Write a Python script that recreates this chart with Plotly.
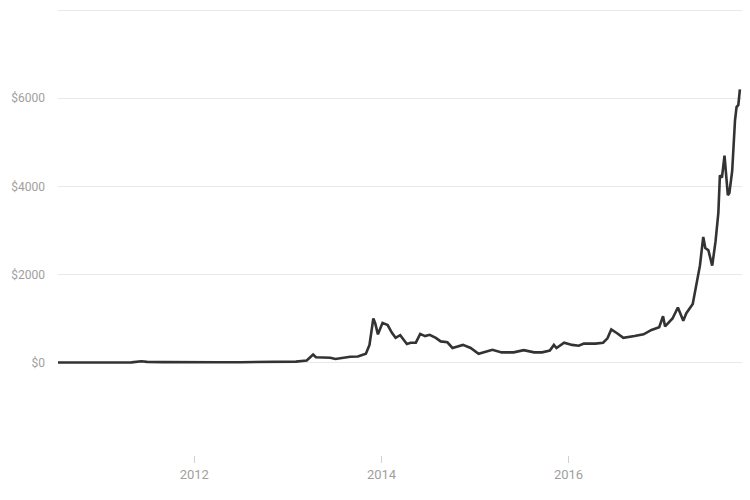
import plotly.graph_objects as go

dates = [
    "2010-07-18", "2010-10-01", "2011-01-01", "2011-03-01", "2011-05-01", "2011-06-08",
    "2011-07-01", "2011-09-01", "2011-11-01", "2012-01-01", "2012-04-01", "2012-07-01",
    "2012-09-01", "2012-12-01", "2013-02-01", "2013-03-15", "2013-04-09", "2013-04-20",
    "2013-05-15", "2013-06-15", "2013-07-05", "2013-08-01", "2013-09-01", "2013-10-01",
    "2013-11-01", "2013-11-15", "2013-11-30", "2013-12-07", "2013-12-18", "2014-01-05",
    "2014-01-25", "2014-02-10", "2014-02-25", "2014-03-15", "2014-04-10", "2014-04-25",
    "2014-05-15", "2014-06-01", "2014-06-20", "2014-07-08", "2014-08-01", "2014-08-20",
    "2014-09-15", "2014-10-05", "2014-10-25", "2014-11-15", "2014-12-15", "2015-01-15",
    "2015-02-15", "2015-03-10", "2015-04-15", "2015-06-01", "2015-07-10", "2015-08-20",
    "2015-09-20", "2015-10-20", "2015-11-05", "2015-11-15", "2015-12-15", "2016-01-15",
    "2016-02-10", "2016-03-01", "2016-04-15", "2016-05-15", "2016-06-01", "2016-06-16",
    "2016-07-10", "2016-08-02", "2016-09-15", "2016-10-20", "2016-11-20", "2016-12-20",
    "2017-01-04", "2017-01-12", "2017-02-10", "2017-03-03", "2017-03-24", "2017-04-05",
    "2017-04-30", "2017-05-20", "2017-05-28", "2017-06-10", "2017-06-18", "2017-06-30",
    "2017-07-15", "2017-07-28", "2017-08-08", "2017-08-14", "2017-08-22", "2017-09-01",
    "2017-09-14", "2017-09-20", "2017-10-01", "2017-10-12", "2017-10-18", "2017-10-25",
    "2017-10-31",
]
prices = [
    0.08, 0.06, 0.3, 0.9, 3.5, 29,
    15, 8, 3, 5, 5, 7,
    11, 13, 20, 47, 180, 120,
    120, 110, 80, 105, 130, 135,
    200, 400, 1000, 900, 640, 900,
    850, 680, 560, 620, 420, 450,
    450, 650, 600, 630, 560, 480,
    460, 330, 360, 400, 330, 200,
    250, 290, 230, 230, 280, 230,
    230, 270, 400, 330, 450, 400,
    380, 430, 430, 450, 550, 750,
    660, 560, 600, 640, 740, 800,
    1050, 820, 1000, 1250, 950, 1120,
    1330, 1900, 2200, 2850, 2600, 2550,
    2200, 2750, 3400, 4250, 4200, 4700,
    3800, 3850, 4350, 5500, 5800, 5850,
    6200,
]

y_tickvals = [0, 2000, 4000, 6000, 8000]
y_ticktext = ["$0", "$2000", "$4000", "$6000", ""]

font_family = "Roboto, Arial, sans-serif"

fig = go.Figure()
fig.add_trace(go.Scatter(
    x=dates, y=prices, mode="lines",
    line=dict(color="#333333", width=2.6),
    hoverinfo="skip", showlegend=False, cliponaxis=False,
))

# page body has an 8px default margin, so the figure is sized 742x492
fig.update_layout(
    width=742, height=492,
    margin=dict(l=50, r=5, t=0, b=45, autoexpand=False),
    paper_bgcolor="white", plot_bgcolor="white",
    font=dict(family=font_family, size=12, color="#a0a0a0"),
    xaxis=dict(
        type="date", automargin=False,
        range=["2010-07-18", "2017-11-20"],
        tick0="2012-01-01", dtick="M24", tickformat="%Y",
        showgrid=False, zeroline=False, showline=False,
        ticks="outside", ticklen=7, tickcolor="#d0d0d0", tickwidth=1,
        tickfont=dict(family=font_family, size=13, color="#a0a0a0"),
    ),
    yaxis=dict(
        automargin=False,
        range=[-2100, 8050],
        tickvals=y_tickvals, ticktext=y_ticktext,
        showgrid=True, gridcolor="#e8e8e8", gridwidth=1,
        zeroline=False, showline=False,
        ticklabelstandoff=12,
        tickfont=dict(family=font_family, size=12, color="#a0a0a0"),
    ),
)

fig.write_html("out.html")
